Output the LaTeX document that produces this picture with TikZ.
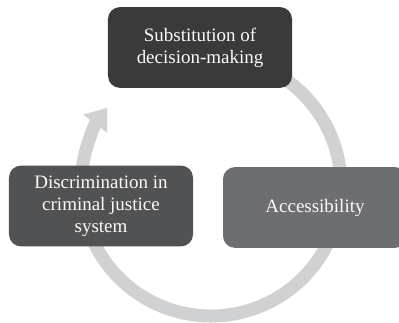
\documentclass[tikz,border=0pt]{standalone}
\usepackage{fontspec}
\setmainfont{Liberation Serif}
\usepackage{xcolor}
\usetikzlibrary{arrows.meta}

\definecolor{boxdark}{HTML}{3A3A3A}
\definecolor{boxmid}{HTML}{515254}
\definecolor{boxlight}{HTML}{6D6E71}
\definecolor{ringgray}{HTML}{D0D1D3}

\begin{document}
\begin{tikzpicture}[
                x=0.25mm, y=0.25mm,
                phase/.style={rounded corners=3mm, minimum width=46mm, minimum height=20.2mm, align=center, inner sep=0pt, text=white!96!gray, font=\fontsize{13.5}{15.5}\selectfont}
            ]
                \useasboundingbox (0, 0) rectangle (399, 323);
                \clip (0, 0) rectangle (399, 323);

                % cycle arrow behind the boxes
                \draw[ringgray, line width=3.25mm, -{Triangle[width=7.2mm, length=5mm]}] (211, 137) ++(80:130) arc[start angle=80, end angle=-217, radius=130];

                \node[phase, fill=boxdark] (sub) at (200, 275.5) {Substitution of\\decision-making};
                \node[phase, fill=boxlight] (acc) at (315, 115.5) {Accessibility};
                \node[phase, fill=boxmid] (disc) at (101, 117) {Discrimination in\\criminal justice\\system};
            \end{tikzpicture}
\end{document}
